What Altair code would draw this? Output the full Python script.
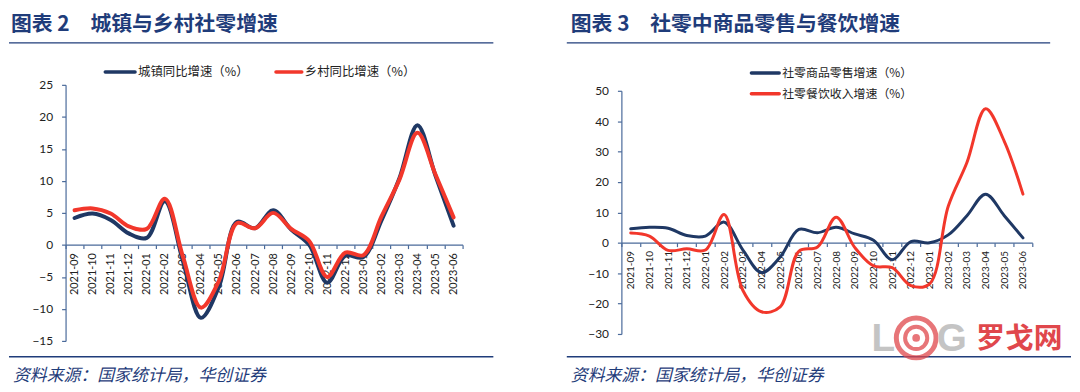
import altair as alt
import pandas as pd

months = ["2021-09", "2021-10", "2021-11", "2021-12", "2022-01", "2022-02", "2022-03",
          "2022-04", "2022-05", "2022-06", "2022-07", "2022-08", "2022-09", "2022-10",
          "2022-11", "2022-12", "2023-01", "2023-02", "2023-03", "2023-04", "2023-05", "2023-06"]

# 图表2: 城镇 / 乡村 同比增速
urban = [4.2, 4.9, 3.9, 1.8, 1.1, 6.8, -2.5, -11.4, -6.5, 3.6, 2.6, 5.4, 2.4, 0.0,
         -5.9, -1.7, -1.9, 3.8, 10.4, 18.7, 10.8, 3.0]
rural = [5.4, 5.7, 4.9, 2.9, 2.5, 7.2, -1.8, -9.8, -5.6, 3.4, 2.6, 5.0, 2.5, 0.6,
         -5.0, -1.2, -1.6, 4.4, 10.2, 17.5, 11.0, 4.3]

# 图表3: 商品零售 / 餐饮收入 增速
goods = [4.6, 5.1, 4.8, 2.4, 2.2, 6.8, -2.3, -9.8, -4.7, 4.4, 3.3, 5.1, 2.9, 0.8,
         -5.6, 0.4, 0.0, 2.6, 8.9, 16.0, 8.9, 1.6]
catering = [3.2, 2.2, -2.5, -2.0, -2.4, 9.3, -15.6, -22.7, -21.1, -2.8, -1.4, 8.4, -1.6, -7.6,
            -8.2, -14.1, -13.5, 12.0, 26.4, 44.1, 33.4, 16.0]

left_names = ["城镇同比增速（%）", "乡村同比增速（%）"]
right_names = ["社零商品零售增速（%）", "社零餐饮收入增速（%）"]
left_ticks = [-15, -10, -5, 0, 5, 10, 15, 20, 25]
right_ticks = [-30, -20, -10, 0, 10, 20, 30, 40, 50]

NAVY = "#1F3864"
RED = "#F2372B"
AX = "#4A6A9A"
TXT = "#1F3C7A"
CJK = "Noto Sans CJK SC"
NUM = "Lato"


def series_df(name, vals):
    return pd.DataFrame({"month": months, "series": [name] * len(months), "value": vals})


def line_layer(df, names, domain, yrange, ticks, zero_off, sw, xlab):
    yscale = alt.Scale(domain=domain, nice=False, zero=False)
    if yrange is not None:
        yscale = alt.Scale(domain=domain, nice=False, zero=False, range=yrange)
    return alt.Chart(df).mark_line(
        interpolate="catmull-rom", strokeWidth=sw, strokeCap="round", strokeJoin="round"
    ).encode(
        x=alt.X("month:N", sort=months,
                scale=alt.Scale(type="band", paddingInner=0, paddingOuter=0),
                axis=alt.Axis(title=None, labelAngle=-90, offset=-zero_off, tickBand="extent",
                              tickSize=4, tickColor=AX, domainColor=AX, domainWidth=1.2,
                              tickWidth=1.2, labelFont=NUM, labelFontSize=xlab,
                              labelColor="#222222", labelPadding=4, labelOverlap=False)),
        y=alt.Y("value:Q", scale=yscale,
                axis=alt.Axis(title=None, values=ticks, grid=False, tickSize=4,
                              tickColor=AX, domainColor=AX, domainWidth=1.2, tickWidth=1.2,
                              labelFont=NUM, labelFontSize=12, labelColor="#222222",
                              labelPadding=9)),
        color=alt.Color("series:N", scale=alt.Scale(domain=names, range=[NAVY, RED]),
                        legend=None),
    )


one = pd.DataFrame({"a": [0]})


def text(x, y, s, size, weight="normal", style="normal", color=TXT, font=CJK, align="left"):
    return alt.Chart(one).mark_text(
        text=s, align=align, baseline="middle", font=font, fontSize=size,
        fontWeight=weight, fontStyle=style, color=color
    ).encode(x=alt.value(x), y=alt.value(y))


def hline(x1, x2, y, color=TXT, w=1.4, cap="butt"):
    return alt.Chart(one).mark_rule(color=color, strokeWidth=w, strokeCap=cap).encode(
        x=alt.value(x1), x2=alt.value(x2), y=alt.value(y))


def legend_item(x1, x2, y, color, label, size):
    return [hline(x1, x2, y, color=color, w=3.5, cap="round"),
            text(x2 + 3, y, label, size, color="#222222")]


TITLE_Y = -60

# ---------- left panel (origin at page 65,85) ----------
left = alt.layer(
    line_layer(series_df(left_names[0], urban), left_names, [-15, 25], None, left_ticks, 97, 4, 11),
    line_layer(series_df(left_names[1], rural), left_names, [-15, 25], None, left_ticks, 97, 4, 11),
    *legend_item(40, 70, -13, NAVY, left_names[0], 12.5),
    *legend_item(212, 238, -13, RED, left_names[1], 12.5),
    text(-55, TITLE_Y, "图表 2", 21, weight="bold"),
    text(25, TITLE_Y, "城镇与乡村社零增速", 21, weight="bold"),
    hline(-57, 431, -42.3),
    hline(-57, 431, 274),
    text(-53, 293.5, "资料来源：国家统计局，华创证券", 17, style="italic"),
).properties(width=400, height=258)

# ---------- right panel (origin at page 623,85) ----------
right = alt.layer(
    line_layer(series_df(right_names[0], goods), right_names, [-30, 50], [251, 6], right_ticks, 92, 3, 10),
    line_layer(series_df(right_names[1], catering), right_names, [-30, 50], [251, 6], right_ticks, 92, 3, 10),
    *legend_item(131, 159, -12, NAVY, right_names[0], 12),
    *legend_item(131, 159, 9, RED, right_names[1], 12),
    text(-51, TITLE_Y, "图表 3", 21, weight="bold"),
    text(29, TITLE_Y, "社零中商品零售与餐饮增速", 21, weight="bold"),
    hline(-55, 432, -42.3),
    hline(-55, 453, 274),
    text(-51, 293.5, "资料来源：国家统计局，华创证券", 17, style="italic"),
    # watermark
    text(264, 256, "L", 39, weight="bold", color="#C4C4C4", font="Liberation Sans", align="center"),
    alt.Chart(one).mark_point(shape="circle", filled=False, strokeWidth=5, color="#E0474C",
                              opacity=0.75, size=1600).encode(x=alt.value(297), y=alt.value(255)),
    alt.Chart(one).mark_point(shape="circle", filled=False, strokeWidth=4, color="#E0474C",
                              opacity=0.75, size=500).encode(x=alt.value(297), y=alt.value(255)),
    alt.Chart(one).mark_point(shape="circle", filled=True, color="#E0474C",
                              opacity=0.75, size=60).encode(x=alt.value(297), y=alt.value(255)),
    text(333, 256, "G", 39, weight="bold", color="#C4C4C4", font="Liberation Sans", align="center"),
    text(401, 256, "罗戈网", 29, weight="bold", color="#E0474C", align="center"),
).properties(width=414, height=251)

chart = alt.hconcat(left, right, spacing=72).configure(
    padding={"left": 0, "top": 5, "right": 0, "bottom": 0},
    background="white",
).configure_view(stroke=None)

chart.save("out.html", embed_options={"renderer": "svg", "actions": False})
